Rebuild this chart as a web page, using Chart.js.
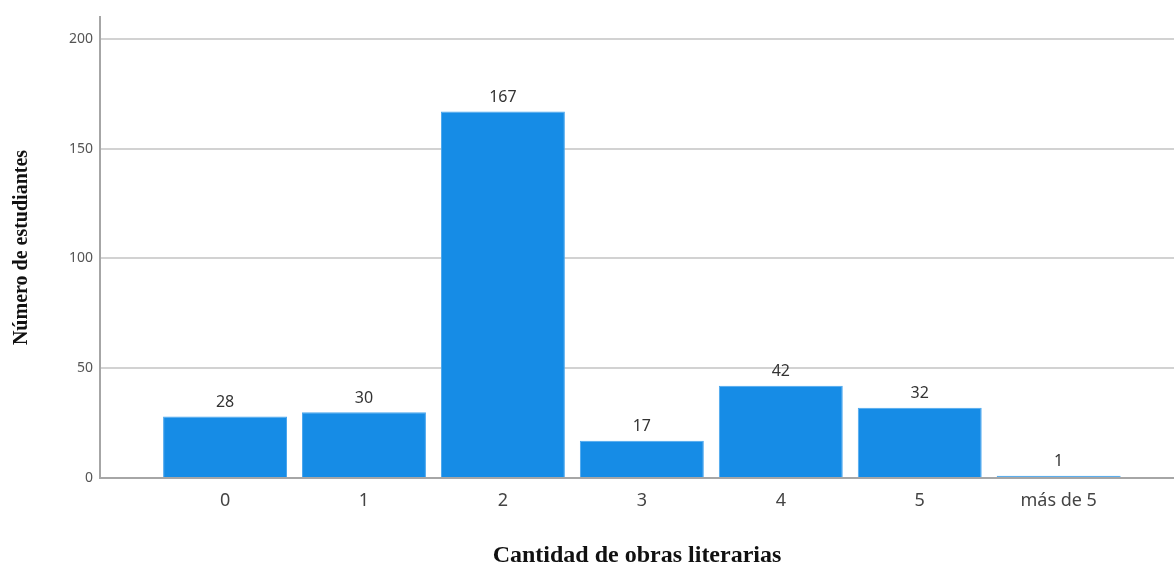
<!DOCTYPE html>
<html>
<head>
<meta charset="utf-8">
<script src="https://cdn.jsdelivr.net/npm/chart.js"></script>
<style>
  html, body { margin: 0; padding: 0; background: #fff; }
  #wrap { width: 1174px; height: 564px; }
</style>
</head>
<body>
<div id="wrap"><canvas id="obras-chart"></canvas></div>
<script>
const categories = ['0', '1', '2', '3', '4', '5', 'más de 5'];
const students = [28, 30, 167, 17, 42, 32, 1];
const yTicks = [0, 50, 100, 150, 200];

// value labels above each bar
const barLabels = {
  id: 'barLabels',
  afterDatasetsDraw(chart) {
    const ctx = chart.ctx;
    ctx.save();
    ctx.font = '16px "Noto Sans"';
    ctx.fillStyle = '#333';
    ctx.textAlign = 'center';
    ctx.textBaseline = 'bottom';
    chart.getDatasetMeta(0).data.forEach((bar, i) => {
      ctx.fillText(students[i], bar.x, bar.y - 6);
    });
    ctx.restore();
  }
};

new Chart(document.getElementById('obras-chart'), {
  type: 'bar',
  data: {
    datasets: [{
      data: students.map((v, i) => ({ x: i, y: v })),
      backgroundColor: '#168ce6',
      borderColor: '#4aa6ee',
      borderWidth: 1,
      barPercentage: 0.892,
      categoryPercentage: 1
    }]
  },
  options: {
    responsive: true,
    maintainAspectRatio: false,
    animation: false,
    layout: { padding: { top: 17, right: 0, bottom: 0, left: 0 } },
    plugins: {
      legend: { display: false },
      tooltip: { enabled: false }
    },
    scales: {
      x: {
        type: 'linear',
        offset: false,
        min: -0.9,
        max: 6.83,
        grid: { display: false },
        border: { color: '#a6a6a6', width: 2 },
        ticks: {
          stepSize: 1,
          includeBounds: false,
          autoSkip: false,
          maxRotation: 0,
          padding: 4,
          color: '#444',
          font: { family: 'Noto Sans', size: 18 },
          callback: v => Number.isInteger(v) ? categories[v] : ''
        },
        title: {
          display: true,
          text: 'Cantidad de obras literarias',
          color: '#111',
          font: { family: 'Liberation Serif', size: 24, weight: 'bold', lineHeight: 1 },
          padding: { top: 0, bottom: -4 }
        },
        afterFit: s => { s.height = 86; }
      },
      y: {
        min: 0,
        max: 210,
        grid: { color: '#d2d2d2', lineWidth: 2, drawTicks: false },
        border: { color: '#a6a6a6', width: 2 },
        afterBuildTicks: s => { s.ticks = yTicks.map(v => ({ value: v })); },
        ticks: {
          padding: 7,
          color: '#555',
          font: { family: 'Noto Sans', size: 14 }
        },
        title: {
          display: true,
          text: 'Número de estudiantes',
          color: '#111',
          font: { family: 'Liberation Serif', size: 20, weight: 'bold', lineHeight: 1 },
          padding: { top: 12, bottom: 0 }
        },
        afterFit: s => { s.width = 100; }
      }
    }
  },
  plugins: [barLabels]
});
</script>
</body>
</html>
